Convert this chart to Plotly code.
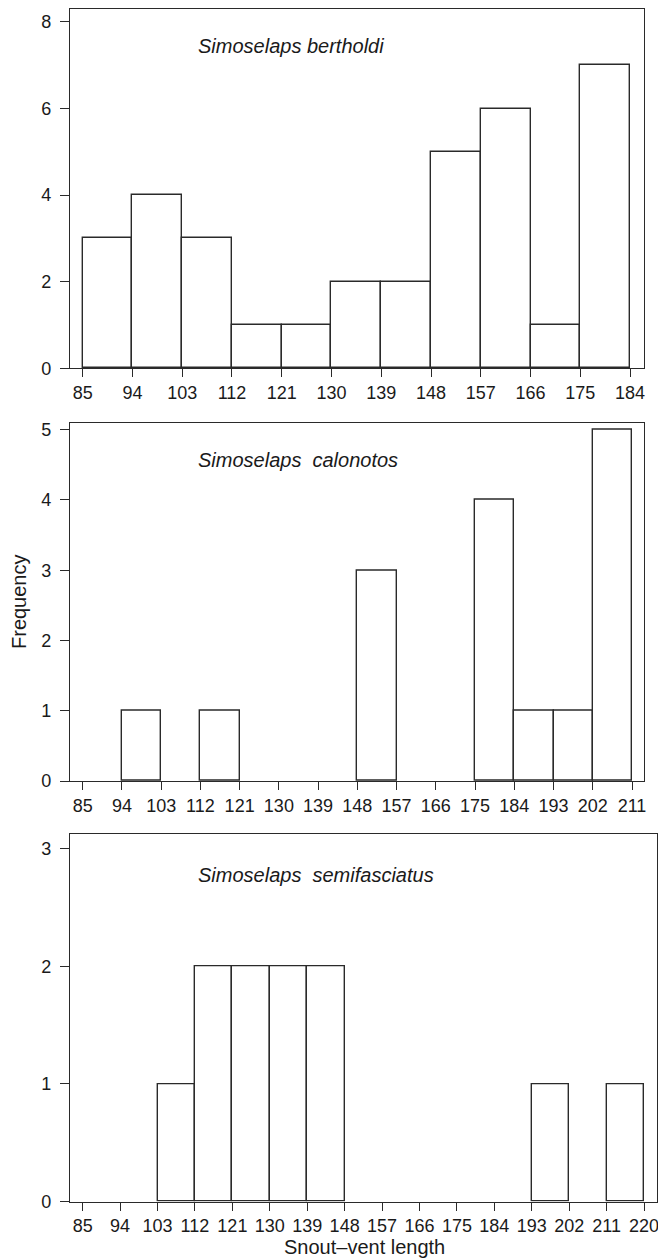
import plotly.graph_objects as go

# ---- data ----
edges_bertholdi = [85, 94, 103, 112, 121, 130, 139, 148, 157, 166, 175, 184]
counts_bertholdi = [3, 4, 3, 1, 1, 2, 2, 5, 6, 1, 7]

edges_calonotos = [85, 94, 103, 112, 121, 130, 139, 148, 157, 166, 175, 184, 193, 202, 211]
counts_calonotos = [0, 1, 0, 1, 0, 0, 0, 3, 0, 0, 4, 1, 1, 5]

edges_semifasciatus = [85, 94, 103, 112, 121, 130, 139, 148, 157, 166, 175, 184, 193, 202, 211, 220]
counts_semifasciatus = [0, 0, 1, 2, 2, 2, 2, 0, 0, 0, 0, 0, 1, 0, 1]

species = ["Simoselaps bertholdi", "Simoselaps\u00a0 calonotos", "Simoselaps\u00a0 semifasciatus"]
yticks_list = [[0, 2, 4, 6, 8], [0, 1, 2, 3, 4, 5], [0, 1, 2, 3]]

W, H = 658, 1259
FONT = "Liberation Sans, Arial, sans-serif"
LC = "#2a2a2a"
TXT = "#1a1a1a"

# window-pixel layout of each panel: (left, right, top, bottom), x range, y range
panels = [
    dict(edges=edges_bertholdi, counts=counts_bertholdi, px=(70, 644, 9, 368.3),
         xr=[82.70, 186.53], yr=[0, 8.3], label_y=46),
    dict(edges=edges_calonotos, counts=counts_calonotos, px=(70, 644, 422.7, 781),
         xr=[82.09, 213.75], yr=[0, 5.10], label_y=460),
    dict(edges=edges_semifasciatus, counts=counts_semifasciatus, px=(70, 656.7, 834.3, 1201.7),
         xr=[81.95, 223.05], yr=[0, 3.12], label_y=875),
]


def px_x(v):
    return v / W


def px_y(v):
    return (H - v) / H


fig = go.Figure()
layout = {}
annotations = []
for i, p in enumerate(panels):
    n = "" if i == 0 else str(i + 1)
    edges = p["edges"]
    counts = p["counts"]
    xs, ys, ws = [], [], []
    for j, c in enumerate(counts):
        if c > 0:
            xs.append((edges[j] + edges[j + 1]) / 2)
            ys.append(c)
            ws.append(edges[j + 1] - edges[j])
    fig.add_trace(go.Bar(
        x=xs, y=ys, width=ws, xaxis="x" + n, yaxis="y" + n,
        marker=dict(color="white", line=dict(color=LC, width=1.4)),
        showlegend=False, hoverinfo="x+y",
    ))
    l, r, t, b = p["px"]
    layout["xaxis" + n] = dict(
        domain=[px_x(l), px_x(r)], range=p["xr"], anchor="y" + n,
        showline=True, linecolor=LC, linewidth=1.3, mirror=True,
        ticks="outside", ticklen=8, tickwidth=1.3, tickcolor=LC,
        tickvals=edges, ticktext=[str(e) for e in edges],
        showgrid=False, zeroline=False, fixedrange=True,
        ticklabeloverflow="allow",
        tickfont=dict(family=FONT, size=18, color=TXT),
    )
    layout["yaxis" + n] = dict(
        domain=[px_y(b), px_y(t)], range=p["yr"], anchor="x" + n,
        showline=True, linecolor=LC, linewidth=1.3, mirror=True,
        ticks="outside", ticklen=9, tickwidth=1.3, tickcolor=LC,
        tickvals=yticks_list[i], showgrid=False, zeroline=False, fixedrange=True,
        ticklabelstandoff=5,
        tickfont=dict(family=FONT, size=18, color=TXT),
    )
    annotations.append(dict(
        text=species[i], xref="paper", yref="paper",
        x=px_x(196), y=px_y(p["label_y"]), xanchor="left", yanchor="middle",
        showarrow=False, font=dict(family=FONT, size=20, color=TXT, style="italic"),
    ))

annotations.append(dict(
    text="Frequency", xref="paper", yref="paper", x=px_x(19), y=px_y(602),
    xanchor="center", yanchor="middle", textangle=-90, showarrow=False,
    font=dict(family=FONT, size=20, color=TXT),
))
annotations.append(dict(
    text="Snout\u2013vent length", xref="paper", yref="paper", x=px_x(365), y=px_y(1247),
    xanchor="center", yanchor="middle", showarrow=False,
    font=dict(family=FONT, size=20, color=TXT),
))

fig.update_layout(
    width=W, height=H, margin=dict(l=0, r=0, t=0, b=0, autoexpand=False),
    paper_bgcolor="white", plot_bgcolor="white", bargap=0,
    annotations=annotations, **layout,
)

fig.write_html(
    "out.html",
    config={"displayModeBar": False},
    post_script="document.body.style.margin='0';document.body.style.overflow='hidden';",
)
